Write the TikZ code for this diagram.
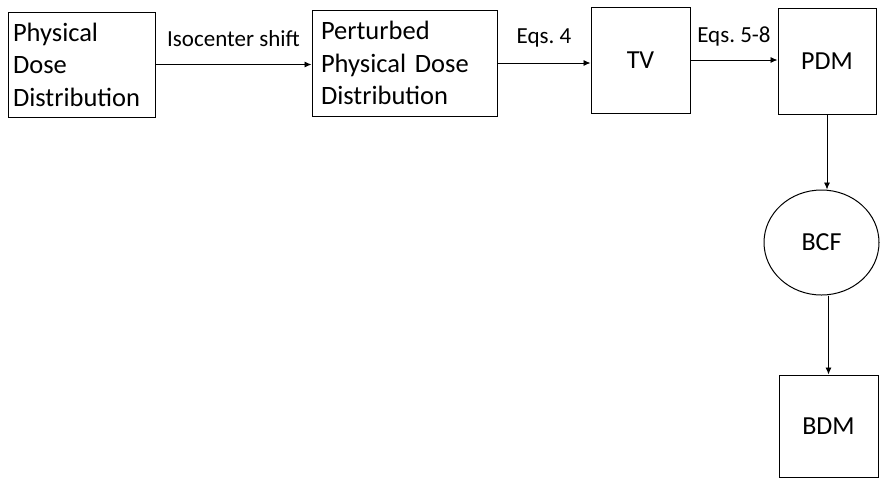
\documentclass[tikz,border=0pt]{standalone}
\usepackage{fontspec}
\setmainfont{Carlito}
\usetikzlibrary{shapes,arrows.meta,calc}
\frenchspacing

\begin{document}
\begin{tikzpicture}[x=1pt, y=-1pt, >={Latex[length=7pt,width=6pt]},
    box/.style={draw, line width=1pt, inner sep=0pt},
    txtbox/.style={box, align=left, font=\fontsize{26.5}{32.5}\selectfont},
    bigbox/.style={box, font=\fontsize{26}{30}\selectfont},
    lbl/.style={font=\fontsize{23}{26}\selectfont, anchor=base, inner sep=0pt}]
  \useasboundingbox (0,0) rectangle (880,483);
  % upper row
  \node (phys) [txtbox, minimum width=147pt, minimum height=105pt, text width=137pt] at (81.5,64.5) {Physical\\Dose\\Distribution};
  \node (pert) [txtbox, minimum width=185pt, minimum height=106pt, text width=167pt] at (404.5,63) {Perturbed\\Physical Dose\\Distribution};
  \node (TV) [bigbox, minimum width=99pt, minimum height=106pt] at (640.5,60) {TV};
  \node (PDM) [bigbox, minimum width=98pt, minimum height=106pt] at (827,61) {PDM};
  % right column
  \node (BCF) [bigbox, ellipse, minimum width=115pt, minimum height=105pt] at (821.5,242.5) {BCF};
  \node (BDM) [bigbox, minimum width=99pt, minimum height=102pt] at (828.5,426) {BDM};
  \draw[->, line width=0.9pt] (phys.east) -- (phys.east -| pert.west) node[lbl, midway, yshift=18pt] {Isocenter shift};
  \draw[->, line width=0.9pt] (pert.east) -- (pert.east -| TV.west) node[lbl, midway, yshift=20pt] {Eqs. 4};
  \draw[->, line width=0.9pt] (TV.east) -- (TV.east -| PDM.west) node[lbl, midway, yshift=18pt] {Eqs. 5-8};
  \draw[->, line width=0.9pt] (PDM.south) -- (PDM.south |- BCF.north);
  \draw[line width=0.9pt, ->] (BCF.south -| BDM.north) -- (BDM.north);
\end{tikzpicture}
\end{document}
